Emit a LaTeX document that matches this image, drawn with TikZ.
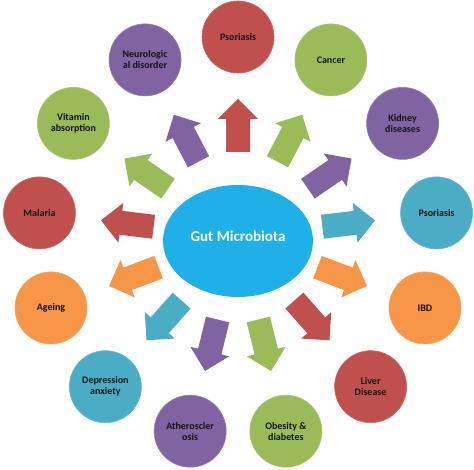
\documentclass[tikz,border=0pt]{standalone}
\usepackage{fontspec}
\setmainfont{Carlito}
\usetikzlibrary{shapes.geometric,calc}
\definecolor{cred}{HTML}{C0504D}
\definecolor{cgreen}{HTML}{9BBB59}
\definecolor{cpurple}{HTML}{8064A2}
\definecolor{cteal}{HTML}{4BACC6}
\definecolor{corange}{HTML}{F79646}
\definecolor{cblue}{HTML}{1FB0E8}
\definecolor{ctext}{HTML}{141414}
\tikzset{
  topic/.style={circle, fill=#1, draw=#1!85!white, line width=0.6pt, minimum size=72pt, inner sep=0pt,
    align=center, text=ctext, font=\bfseries\fontsize{10}{11}\selectfont},
  hub/.style={ellipse, fill=cblue, minimum width=150pt, minimum height=112pt, inner sep=0pt},
  hublabel/.style={text=white, font=\bfseries\fontsize{15}{17}\selectfont},
  blockarrow/.style={fill=#1}
}
\begin{document}
\begin{tikzpicture}[x=1pt,y=1pt]
\useasboundingbox (0,0) rectangle (474,469);
\coordinate (ctr) at (238,232);
\node[hub] (gut) at (238,228) {};
\node[hublabel] (gutlabel) at (238,233) {Gut Microbiota};
\foreach \k/\col/\txt in {
  0/cred/{Psoriasis},
  1/cgreen/{Cancer},
  2/cpurple/{Kidney\\diseases},
  3/cteal/{Psoriasis},
  4/corange/{IBD},
  5/cred/{Liver\\Disease},
  6/cgreen/{Obesity \&\\diabetes},
  7/cpurple/{Atheroscler\\osis},
  8/cteal/{Depression\\anxiety},
  9/corange/{Ageing},
  10/cred/{Malaria},
  11/cgreen/{Vitamin\\absorption},
  12/cpurple/{Neurologic\\al disorder}}
{
  \pgfmathsetmacro{\ang}{90-\k*360/13}
  \node[topic=\col] (c\k) at ($(ctr)+(\ang:200)$) {\txt};
  \begin{scope}[shift={(ctr)}, rotate=\ang]
    \fill[blockarrow=\col] (85,-12) -- (118,-12) -- (118,-20) -- (138,0) -- (118,20) -- (118,12) -- (85,12) -- cycle;
  \end{scope}
}
\end{tikzpicture}
\end{document}
